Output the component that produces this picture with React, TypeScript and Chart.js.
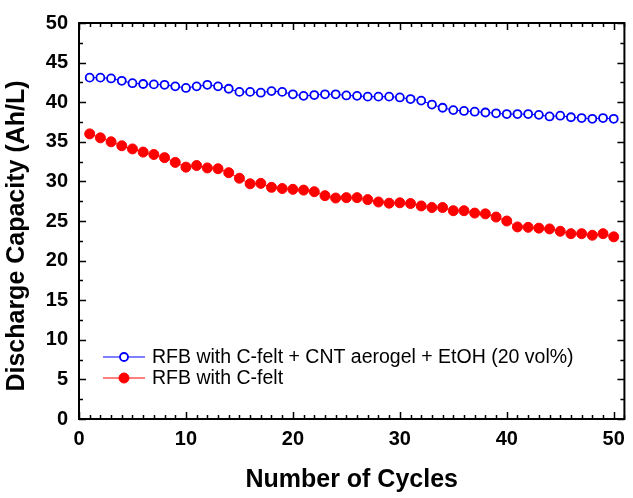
import React, { useEffect, useRef } from "react";
import { Chart, registerables } from "chart.js";

Chart.register(...registerables);

const cycles = [
  1, 2, 3, 4, 5, 6, 7, 8, 9, 10, 11, 12, 13, 14, 15, 16, 17, 18, 19, 20, 21, 22, 23, 24, 25,
  26, 27, 28, 29, 30, 31, 32, 33, 34, 35, 36, 37, 38, 39, 40, 41, 42, 43, 44, 45, 46, 47, 48, 49, 50,
];

const cntAerogel = [
  43.1, 43.1, 43.0, 42.7, 42.4, 42.3, 42.25, 42.2, 42.0, 41.8, 42.0, 42.2, 42.0, 41.7, 41.3,
  41.3, 41.2, 41.4, 41.3, 41.0, 40.8, 40.9, 41.0, 41.0, 40.85, 40.8, 40.7, 40.7, 40.7, 40.6,
  40.4, 40.2, 39.7, 39.3, 39.0, 38.9, 38.8, 38.7, 38.6, 38.5, 38.5, 38.5, 38.4, 38.2, 38.3,
  38.1, 38.0, 37.9, 38.0, 37.9,
];

const cFelt = [
  36.0, 35.5, 35.0, 34.5, 34.1, 33.7, 33.4, 33.0, 32.4, 31.8, 32.0, 31.7, 31.6, 31.1, 30.4,
  29.7, 29.75, 29.25, 29.1, 29.0, 28.9, 28.7, 28.2, 27.9, 27.95, 27.95, 27.7, 27.4, 27.25, 27.3,
  27.2, 26.9, 26.7, 26.7, 26.3, 26.3, 26.0, 25.9, 25.5, 25.0, 24.25, 24.2, 24.1, 24.0, 23.7,
  23.4, 23.4, 23.2, 23.4, 23.0,
];

const seriesLabels = [
  "RFB with C-felt + CNT aerogel + EtOH (20 vol%)",
  "RFB with C-felt",
];

const xTitle = "Number of Cycles";
const yTitle = "Discharge Capacity (Ah/L)";

const FONT = "'Liberation Sans', Arial, sans-serif";

const framePlugin = {
  id: "frameTicks",
  afterDraw(chart: any) {
    const { ctx, chartArea: a, scales } = chart;
    const x = scales.x;
    const y = scales.y;
    ctx.save();
    ctx.strokeStyle = "#000";
    ctx.lineWidth = 1.5;
    ctx.beginPath();
    // x ticks (minor every 1, major every 10) on bottom and top, pointing inward
    for (let v = 0; v <= x.max + 1e-9; v += 1) {
      const px = Math.round(x.getPixelForValue(v)) + 0.5;
      const len = v % 10 === 0 ? 7 : 4;
      ctx.moveTo(px, a.bottom);
      ctx.lineTo(px, a.bottom - len);
      ctx.moveTo(px, a.top);
      ctx.lineTo(px, a.top + len);
    }
    // y ticks (minor every 2.5, major every 5) on left and right
    for (let v = 0; v <= y.max + 1e-9; v += 2.5) {
      const py = Math.round(y.getPixelForValue(v)) + 0.5;
      const len = v % 5 === 0 ? 7 : 4;
      ctx.moveTo(a.left, py);
      ctx.lineTo(a.left + len, py);
      ctx.moveTo(a.right, py);
      ctx.lineTo(a.right - len, py);
    }
    ctx.stroke();
    ctx.lineWidth = 2;
    ctx.strokeRect(a.left, a.top, a.right - a.left, a.bottom - a.top);

    // y axis title (rotated)
    ctx.save();
    ctx.translate(17.5, 236);
    ctx.rotate(-Math.PI / 2);
    ctx.fillStyle = "#000";
    ctx.font = `bold 25px ${FONT}`;
    ctx.textAlign = "center";
    ctx.textBaseline = "middle";
    ctx.fillText(yTitle, 0, 0);
    ctx.restore();

    // legend inside plot, lower-left
    const ds = chart.data.datasets;
    const rows = [357, 378];
    ds.forEach((d: any, i: number) => {
      const ly = rows[i];
      const x0 = a.left + 24;
      const x1 = a.left + 66;
      const xm = (x0 + x1) / 2;
      ctx.strokeStyle = d.borderColor;
      ctx.lineWidth = 1;
      ctx.beginPath();
      ctx.moveTo(x0, ly);
      ctx.lineTo(x1, ly);
      ctx.stroke();
      ctx.beginPath();
      ctx.arc(xm, ly, d.pointRadius, 0, Math.PI * 2);
      ctx.fillStyle = d.pointBackgroundColor;
      ctx.fill();
      ctx.lineWidth = d.pointBorderWidth;
      ctx.strokeStyle = d.pointBorderColor;
      ctx.stroke();
      ctx.fillStyle = "#000";
      ctx.font = `19.5px ${FONT}`;
      ctx.textBaseline = "middle";
      ctx.textAlign = "left";
      ctx.fillText(d.label, a.left + 73, ly + 1);
    });
    ctx.restore();
  },
};

export default function App() {
  const ref = useRef<HTMLCanvasElement | null>(null);

  useEffect(() => {
    if (!ref.current) return;
    const chart = new Chart(ref.current, {
      type: "line",
      data: {
        datasets: [
          {
            label: seriesLabels[0],
            data: cycles.map((c, i) => ({ x: c, y: cntAerogel[i] })),
            borderColor: "#0000ff",
            borderWidth: 1,
            pointRadius: 4,
            pointBorderWidth: 1.8,
            pointBorderColor: "#0000ff",
            pointBackgroundColor: "#ffffff",
            pointStyle: "circle",
            tension: 0,
          },
          {
            label: seriesLabels[1],
            data: cycles.map((c, i) => ({ x: c, y: cFelt[i] })),
            borderColor: "#ff0000",
            borderWidth: 1,
            pointRadius: 5,
            pointBorderWidth: 1,
            pointBorderColor: "#ff0000",
            pointBackgroundColor: "#ff0000",
            pointStyle: "circle",
            tension: 0,
          },
        ],
      },
      options: {
        animation: false,
        responsive: false,
        layout: { padding: { left: 0, top: 18, right: 8, bottom: 0 } },
        plugins: {
          legend: { display: false },
          tooltip: { enabled: false },
        },
        scales: {
          x: {
            type: "linear",
            min: 0,
            max: 51,
            grid: { display: false, drawTicks: false },
            border: { display: false },
            ticks: {
              stepSize: 10,
              includeBounds: false,
              autoSkip: false,
              maxRotation: 0,
              padding: 8,
              color: "#000",
              font: { family: FONT, size: 20, weight: "bold" },
            },
            title: {
              display: true,
              text: xTitle,
              color: "#000",
              font: { family: FONT, size: 25, weight: "bold" },
              padding: { top: 0, bottom: 3 },
            },
            afterFit(scale: any) {
              scale.height = 79;
            },
          },
          y: {
            type: "linear",
            min: 0,
            max: 50,
            grid: { display: false, drawTicks: false },
            border: { display: false },
            ticks: {
              stepSize: 5,
              includeBounds: false,
              padding: 11,
              color: "#000",
              font: { family: FONT, size: 20, weight: "bold" },
            },
            title: { display: false, text: yTitle },
            afterFit(scale: any) {
              scale.width = 79;
            },
          },
        },
      },
      plugins: [framePlugin],
    } as any);
    return () => chart.destroy();
  }, []);

  return (
    <div style={{ position: "absolute", left: 0, top: 0, width: 633, height: 498, background: "#fff" }}>
      <canvas ref={ref} width={633} height={498} style={{ display: "block" }} />
    </div>
  );
}
